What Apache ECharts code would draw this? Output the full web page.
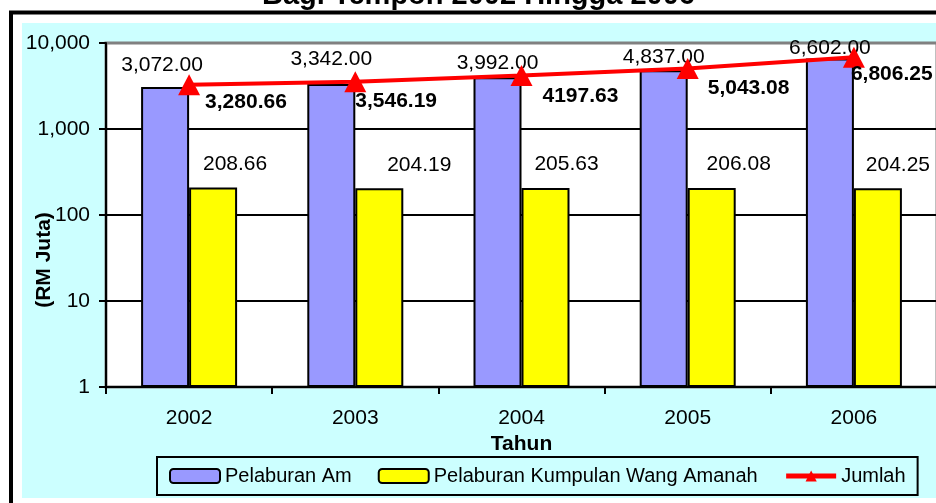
<!DOCTYPE html>
<html>
<head>
<meta charset="utf-8">
<script src="https://cdn.jsdelivr.net/npm/echarts@6/dist/echarts.min.js"></script>
<style>
  html, body { margin: 0; padding: 0; background: #fff; }
  #chart { width: 936px; height: 503px; }
</style>
</head>
<body>
<div id="chart"></div>
<script>
// data
const categories = ['2002', '2003', '2004', '2005', '2006'];
const pelaburanAm = [3072.00, 3342.00, 3992.00, 4837.00, 6602.00];
const kumpulanWang = [208.66, 204.19, 205.63, 206.08, 204.25];
const jumlah = [3280.66, 3546.19, 4197.63, 5043.08, 6806.25];
const jumlahText = ['3,280.66', '3,546.19', '4197.63', '5,043.08', '6,806.25'];
const yTickLabels = { 1: '1', 10: '10', 100: '100', 1000: '1,000', 10000: '10,000' };

// label nudges (layout only)
const amNudge = [[-3, -5], [0, -8], [0, 2], [0, 4], [0, 6]];
const kwaNudge = [[22, 0], [40, 0], [21, 0], [27, 0], [20, 0]];
const jumlahNudge = [[5, 18], [-11, 19], [10, 21], [9, 20], [-14, 17]];

const FONT = '"Liberation Sans", Arial, sans-serif';
const fmt2 = v => v.toLocaleString('en-US', { minimumFractionDigits: 2, maximumFractionDigits: 2 });

const chart = echarts.init(document.getElementById('chart'));

const option = {
  animation: false,
  textStyle: { fontFamily: FONT },
  title: {
    text: 'Bagi Tempoh 2002 Hingga 2006',
    left: 262,
    top: -19,
    padding: 0,
    textStyle: { fontSize: 29, fontWeight: 'bold', color: '#000', fontFamily: FONT }
  },
  graphic: [
    { type: 'rect', z: -10, shape: { x: 11, y: 12.5, width: 960, height: 520 },
      style: { fill: '#fff', stroke: '#000', lineWidth: 4 } },
    { type: 'rect', z: -9, shape: { x: 22, y: 23, width: 940, height: 475 },
      style: { fill: '#CCFFFF' } },
    { type: 'text', z: 10, x: 44, y: 260, rotation: Math.PI / 2,
      style: { text: '(RM Juta)', fontSize: 21, fontWeight: 'bold', fontFamily: FONT,
               fill: '#000', align: 'center', verticalAlign: 'middle' } }
  ],
  grid: {
    left: 106, right: -1, top: 43, bottom: 116,
    show: true, backgroundColor: '#fff', borderColor: '#808080', borderWidth: 3,
    containLabel: false, outerBoundsMode: 'none'
  },
  legend: {
    left: 157, top: 457,
    padding: [9, 12],
    itemGap: 26, itemWidth: 50, itemHeight: 14, itemTextGap: 5,
    borderColor: '#000', borderWidth: 2,
    textStyle: { fontSize: 20, color: '#000', fontFamily: FONT },
    data: [
      'Pelaburan Am',
      'Pelaburan Kumpulan Wang Amanah',
      { name: 'Jumlah', lineStyle: { width: 5 } }
    ]
  },
  xAxis: {
    type: 'category',
    data: categories,
    name: 'Tahun',
    nameLocation: 'middle',
    nameGap: 44,
    nameTextStyle: { fontSize: 21, fontWeight: 'bold', color: '#000', fontFamily: FONT },
    axisLine: { lineStyle: { color: '#000', width: 2 } },
    axisTick: { show: true, length: 7, lineStyle: { color: '#000', width: 2 } },
    axisLabel: { fontSize: 21, color: '#000', margin: 21, fontFamily: FONT }
  },
  yAxis: {
    type: 'log',
    logBase: 10,
    min: 1,
    max: 10000,
    axisLine: { show: true, lineStyle: { color: '#000', width: 2 } },
    axisTick: { show: true, length: 7, lineStyle: { color: '#000', width: 2 } },
    axisLabel: { fontSize: 21, color: '#000', margin: 16, fontFamily: FONT,
                 formatter: v => yTickLabels[Math.round(v)] || String(v) },
    splitLine: { show: true, lineStyle: { color: ['#000', '#000', '#000', '#000', '#808080'], width: 2 } }
  },
  series: [
    {
      name: 'Pelaburan Am',
      type: 'bar',
      barWidth: 48,
      barGap: '0%',
      itemStyle: { color: '#9999FF', borderColor: '#000', borderWidth: 2 },
      label: { show: true, position: 'top', distance: 6, fontSize: 21, color: '#000',
               fontFamily: FONT, formatter: p => fmt2(p.value) },
      data: pelaburanAm.map((v, i) => ({ value: v, label: { offset: amNudge[i] } }))
    },
    {
      name: 'Pelaburan Kumpulan Wang Amanah',
      type: 'bar',
      barWidth: 48,
      barGap: '0%',
      itemStyle: { color: '#FFFF00', borderColor: '#000', borderWidth: 2 },
      label: { show: true, position: 'top', distance: 13, fontSize: 21, color: '#000',
               fontFamily: FONT, formatter: p => fmt2(p.value) },
      data: kumpulanWang.map((v, i) => ({ value: v, label: { offset: kwaNudge[i] } }))
    },
    {
      name: 'Jumlah',
      type: 'line',
      symbol: 'triangle',
      symbolSize: [22, 21],
      lineStyle: { color: '#FF0000', width: 4 },
      itemStyle: { color: '#FF0000' },
      label: { show: true, position: 'right', distance: 0, fontSize: 21, fontWeight: 'bold',
               color: '#000', fontFamily: FONT, formatter: p => jumlahText[p.dataIndex] },
      data: jumlah.map((v, i) => ({ value: v, label: { offset: jumlahNudge[i] } }))
    }
  ]
};

chart.setOption(option);
</script>
</body>
</html>
